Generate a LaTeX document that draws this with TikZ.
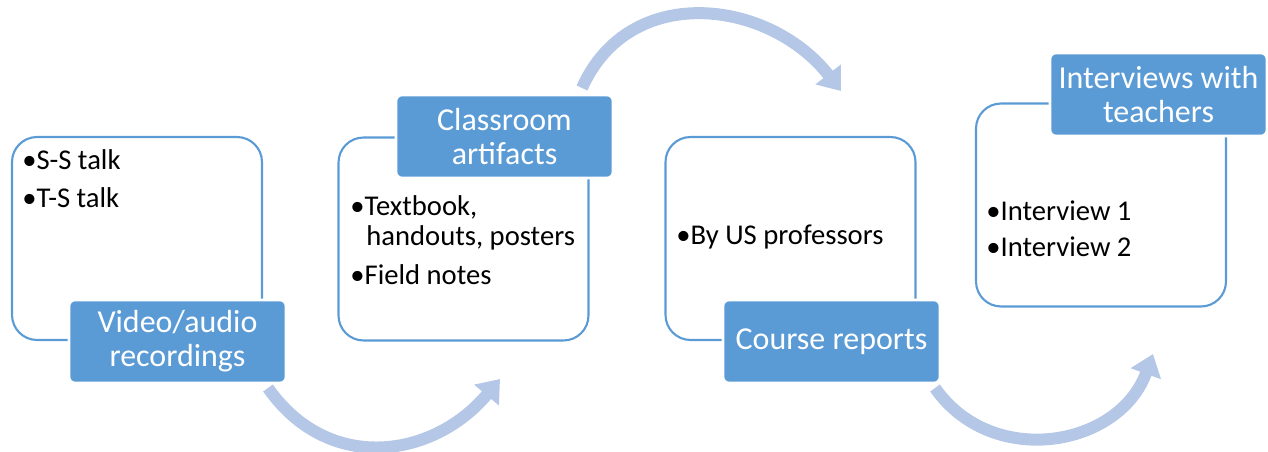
\documentclass[tikz,border=0pt]{standalone}
\usepackage{fontspec}
\setmainfont{Carlito}
\usetikzlibrary{arrows.meta}
\definecolor{boxblue}{HTML}{5B9BD5}
\definecolor{paleblue}{HTML}{B4C7E7}
\begin{document}
\begin{tikzpicture}[x=0.02cm,y=-0.02cm,
    frame/.style={draw=boxblue,line width=1.2pt,rounded corners=0.5cm,minimum width=5cm,minimum height=4.06cm},
    tagbox/.style={fill=boxblue,draw=white,line width=1.5pt,rounded corners=0.12cm,minimum width=4.34cm,minimum height=1.66cm,text=white,align=center,font=\fontsize{18.2}{19.4}\selectfont},
    item/.style={anchor=west,inner sep=0pt,font=\fontsize{16.3}{19}\selectfont},
    flow/.style={paleblue,line width=0.24cm,-{Triangle[width=0.62cm,length=0.42cm]}}]
  \useasboundingbox (0,0) rectangle (1268,452);
  % outline boxes
  \node[frame] (rec) at (137,238.5) {};
  \node[frame] (art) at (463.5,239) {};
  \node[frame] (rep) at (790.5,238.5) {};
  \node[frame] (int) at (1101,205) {};
  % titles
  \node[tagbox] (rectag) at (177.5,341.5) {Video/audio\\recordings};
  \node[tagbox] (arttag) at (504.5,136.5) {Classroom\\artifacts};
  \node[tagbox] (reptag) at (831.5,341.5) {Course reports};
  \node[tagbox] (inttag) at (1158.5,94.5) {Interviews with\\teachers};
  % bullet items
  \node[item] (ss) at (22,160) {•S-S talk};
  \node[item] (ts) at (22,198) {•T-S talk};
  \node[item] (tb) at (350,207) {•Textbook,};
  \node[item] (ho) at (366,238) {handouts, posters};
  \node[item] (fn) at (350,275) {•Field notes};
  \node[item] (us) at (676,237) {•By US professors};
  \node[item] (i1) at (986,211) {•Interview 1};
  \node[item] (i2) at (986,247) {•Interview 2};
  % curved arrows
  \coordinate (a1s) at (268,388);
  \coordinate (a1e) at (500,379);
  \coordinate (a2s) at (582,88);
  \coordinate (a2e) at (841,91);
  \coordinate (a3s) at (935,388);
  \coordinate (a3e) at (1153,354);
  \draw[flow] (a1s) to[out=-55,in=-130,looseness=1.15] (a1e);
  \draw[flow] (a2s) to[out=66,in=128,looseness=1.15] (a2e);
  \draw[flow] (a3s) to[out=-55,in=-110,looseness=1.15] (a3e);
\end{tikzpicture}
\end{document}
